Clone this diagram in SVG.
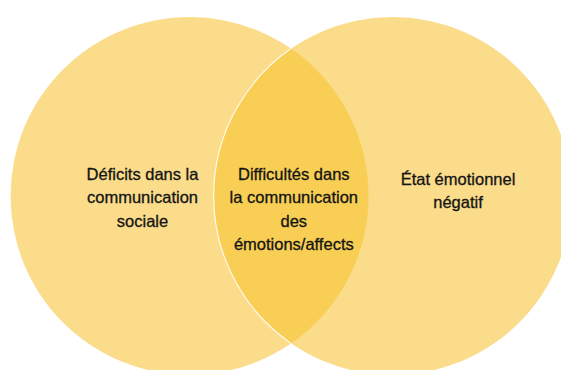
<svg xmlns="http://www.w3.org/2000/svg" width="561" height="370" viewBox="0 0 561 370">
  <style>
    .set { fill: #FADC8A; }
    .overlap { fill: #F8CE55; }
    .edge { fill: none; stroke: #FFFFFF; stroke-width: 1.2; stroke-opacity: 0.85; }
    .label { font-family: "Liberation Sans", Arial, sans-serif; font-size: 16.5px; fill: #141414; stroke: #141414; stroke-width: 0.3; text-anchor: middle; }
  </style>
  <rect width="561" height="370" fill="#FFFFFF"/>
  <g id="set-left">
    <circle class="set" cx="189.6" cy="196" r="179"/>
  </g>
  <g id="set-right">
    <circle class="set" cx="392.6" cy="196" r="179"/>
  </g>
  <g id="intersection">
    <!-- lens shared by both circles -->
    <path class="overlap" d="M291.1,48.6 A179,179 0 0 1 291.1,343.4 A179,179 0 0 1 291.1,48.6 Z"/>
    <!-- light rim of the right circle where it crosses the left one -->
    <path class="edge" d="M291.1,48.6 A179,179 0 0 0 291.1,343.4"/>
  </g>
  <g id="label-left">
    <text class="label" x="142.5" y="180">Déficits dans la</text>
    <text class="label" x="142.5" y="203">communication</text>
    <text class="label" x="142.5" y="226.5">sociale</text>
  </g>
  <g id="label-center">
    <text class="label" x="293.8" y="180">Difficultés dans</text>
    <text class="label" x="293.8" y="203">la communication</text>
    <text class="label" x="293.8" y="226.5">des</text>
    <text class="label" x="293.8" y="250">émotions/affects</text>
  </g>
  <g id="label-right">
    <text class="label" x="458" y="185">État émotionnel</text>
    <text class="label" x="458" y="208">négatif</text>
  </g>
  <g id="connectors"/>
</svg>
